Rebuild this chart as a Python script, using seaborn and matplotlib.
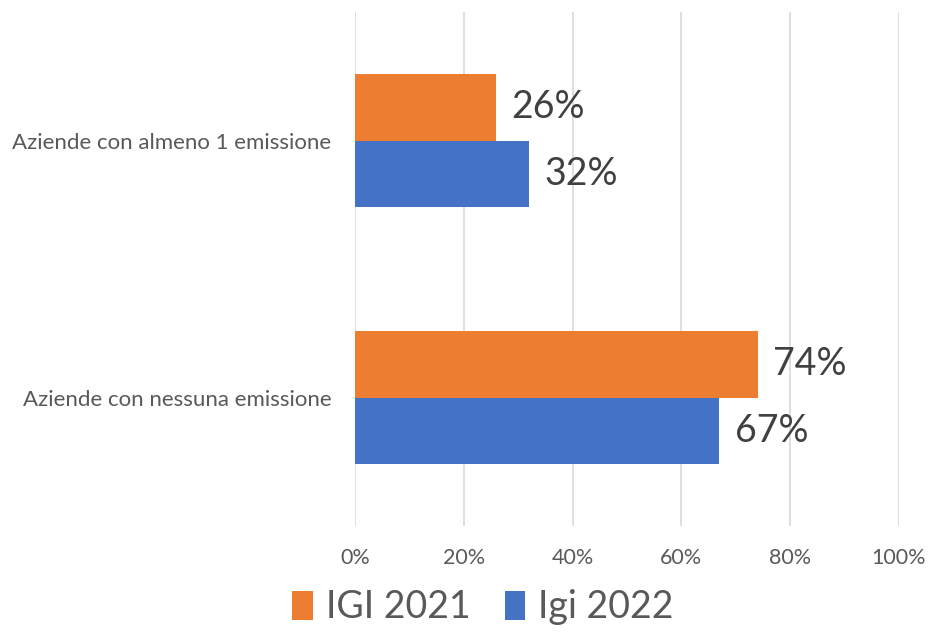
import pandas as pd
import seaborn as sns
import matplotlib.pyplot as plt
from matplotlib.ticker import PercentFormatter

# Data
categories = ['Aziende con almeno 1 emissione', 'Aziende con nessuna emissione']
series = ['IGI 2021', 'Igi 2022']
igi_2021 = [0.26, 0.74]
igi_2022 = [0.32, 0.67]
colors = ['#ED7D31', '#4472C4']

df = pd.DataFrame({
    'Categoria': categories * 2,
    'Serie': [series[0]] * 2 + [series[1]] * 2,
    'Valore': igi_2021 + igi_2022,
})

sns.set_style('white')
plt.rcParams['font.family'] = ['Lato', 'DejaVu Sans']

fig = plt.figure(figsize=(9.29, 6.4), dpi=100)
ax = fig.add_axes([0.3821, 0.178, 0.5856, 0.803])

sns.barplot(data=df, y='Categoria', x='Valore', hue='Serie', order=categories,
            hue_order=series, palette=colors, width=0.52, orient='h',
            saturation=1, linewidth=0, ax=ax, legend=True)

ax.set_xlim(0, 1)
ax.set_ylim(1.5, -0.5)
ax.xaxis.set_major_formatter(PercentFormatter(1.0, decimals=0))
ax.set_xticks([0, 0.2, 0.4, 0.6, 0.8, 1.0])
ax.grid(axis='x', color='#D9D9D9', linewidth=1.2)
ax.set_axisbelow(True)
for s in ax.spines.values():
    s.set_visible(False)
ax.set_xlabel('')
ax.set_ylabel('')
ax.tick_params(axis='x', labelsize=15.5, labelcolor='#595959', length=0, pad=16)
ax.tick_params(axis='y', labelsize=16, labelcolor='#595959', length=0, pad=17)

for cont in ax.containers:
    ax.bar_label(cont, labels=[f'{v*100:.0f}%' for v in cont.datavalues],
                 padding=11, fontsize=27, color='#404040')

handles, labels = ax.get_legend_handles_labels()
ax.get_legend().remove()
fig.legend(handles, labels, loc='lower center', bbox_to_anchor=(0.52, -0.03),
           ncol=2, frameon=False, fontsize=27, labelcolor='#595959',
           handlelength=0.55, handleheight=0.8, handletextpad=0.35,
           columnspacing=0.9)

fig.savefig('out.png', dpi=100)
